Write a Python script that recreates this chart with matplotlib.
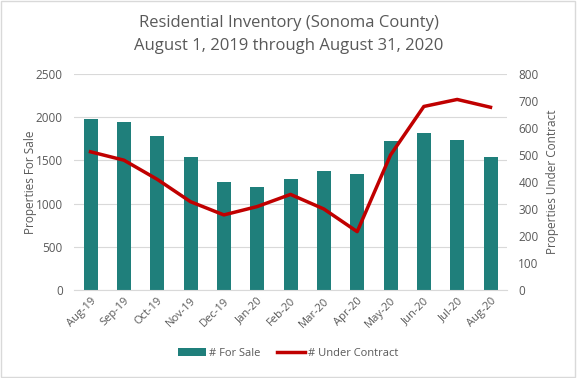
import matplotlib
matplotlib.use("Agg")
import matplotlib.pyplot as plt
from matplotlib.patches import Rectangle

months = ["Aug-19", "Sep-19", "Oct-19", "Nov-19", "Dec-19", "Jan-20", "Feb-20",
          "Mar-20", "Apr-20", "May-20", "Jun-20", "Jul-20", "Aug-20"]
for_sale = [1979, 1944, 1782, 1539, 1250, 1192, 1290, 1377, 1343, 1724, 1817, 1736, 1539]
under_contract = [512, 481, 410, 327, 278, 309, 354, 300, 216, 500, 680, 706, 677]

plt.rcParams['font.family'] = ['Open Sans', 'DejaVu Sans']
gray = "#595959"

fig = plt.figure(figsize=(5.77, 3.78), dpi=100)
fig.patches.append(Rectangle((0.002, 0.003), 0.995, 0.994, transform=fig.transFigure,
                             fill=False, edgecolor="#D9D9D9", linewidth=1))
ax = fig.add_axes([0.128, 0.233, 0.751, 0.571])
x = list(range(len(months)))
ax.bar(x, for_sale, width=0.42, color="#1F7F7B", label="# For Sale", zorder=2)
ax.set_ylim(0, 2500)
ax.set_xlim(-0.5, len(months) - 0.5)
ax.set_yticks(range(0, 2501, 500))
ax.grid(axis="y", color="#D9D9D9", linewidth=0.8, zorder=0)
ax.set_axisbelow(True)
for s in ["top", "right", "left"]:
    ax.spines[s].set_visible(False)
ax.spines["bottom"].set_color("#D9D9D9")
ax.set_xticks(x)
ax.set_xticklabels(months, rotation=45, ha="right", rotation_mode="anchor")
ax.tick_params(axis="x", length=0, colors=gray, labelsize=8, pad=4)
ax.tick_params(axis="y", length=0, colors=gray, labelsize=8.5, pad=8)
ax.set_ylabel("Properties For Sale", color=gray, fontsize=8.5, labelpad=-1)

ax2 = ax.twinx()
ax2.plot(x, under_contract, color="#C00000", linewidth=2.5, label="# Under Contract", zorder=3)
ax2.set_ylim(0, 800)
ax2.set_yticks(range(0, 801, 100))
for s in ["top", "right", "left", "bottom"]:
    ax2.spines[s].set_visible(False)
ax2.tick_params(axis="y", length=0, colors=gray, labelsize=8.5, pad=8)
ax2.set_ylabel("Properties Under Contract", color=gray, fontsize=8.5, labelpad=5)

fig.text(0.5, 0.94, "Residential Inventory (Sonoma County)", ha="center", va="center",
         fontsize=12, color=gray)
fig.text(0.5, 0.877, "August 1, 2019 through August 31, 2020", ha="center", va="center",
         fontsize=12, color=gray)

h1, l1 = ax.get_legend_handles_labels()
h2, l2 = ax2.get_legend_handles_labels()
fig.legend(h1 + h2, l1 + l2, loc="center", bbox_to_anchor=(0.5, 0.065), ncol=2,
           frameon=False, fontsize=8, labelcolor=gray, handlelength=2.5,
           handletextpad=0.3, columnspacing=1.5)

fig.savefig("out.png", dpi=100)
